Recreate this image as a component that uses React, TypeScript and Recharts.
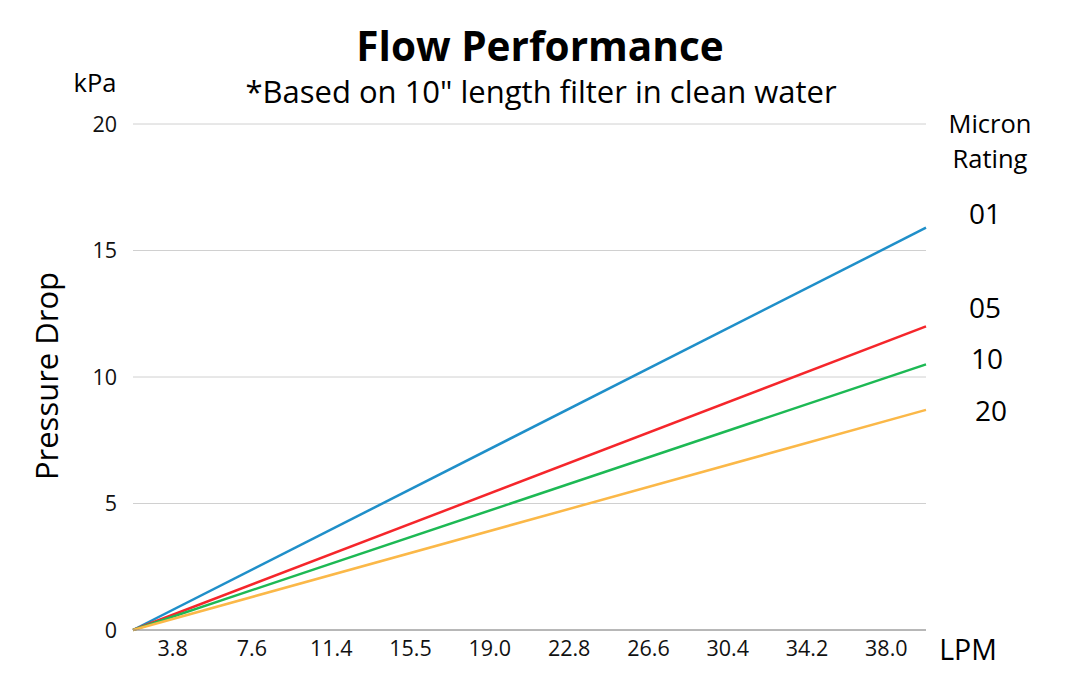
import React from 'react';
import { LineChart, Line, XAxis, YAxis, CartesianGrid } from 'recharts';

// flow positions (band index) and their LPM labels
const xLabels = ['3.8', '7.6', '11.4', '15.5', '19.0', '22.8', '26.6', '30.4', '34.2', '38.0'];
const xTicks = [0.5, 1.5, 2.5, 3.5, 4.5, 5.5, 6.5, 7.5, 8.5, 9.5];
const yTicks = [0, 5, 10, 15, 20];

// pressure drop (kPa) at start and end of flow range
const flowPos = [0, 10];
const micron01 = [0, 15.9];
const micron05 = [0, 12.0];
const micron10 = [0, 10.5];
const micron20 = [0, 8.7];

const seriesNames = ['01', '05', '10', '20'];
const seriesColors = ['#1f8fc9', '#f5262b', '#1db954', '#fbb848'];

const data = flowPos.map((x, i) => ({
  x,
  m01: micron01[i],
  m05: micron05[i],
  m10: micron10[i],
  m20: micron20[i],
}));

const FONT = '"Open Sans", "Noto Sans", sans-serif';

const txt = (s: React.CSSProperties): React.CSSProperties => ({
  position: 'absolute',
  fontFamily: FONT,
  color: '#000',
  whiteSpace: 'nowrap',
  transform: 'translate(-50%, -50%)',
  lineHeight: 1,
  ...s,
});

export default function App() {
  return (
    <div style={{ position: 'absolute', left: 0, top: 0, width: 1068, height: 695, background: '#fff' }}>
      <LineChart width={1068} height={695} data={data} margin={{ top: 124, right: 142, left: 0, bottom: 0 }}>
        <CartesianGrid vertical={false} stroke="#d0d0d0" />
        <XAxis
          dataKey="x"
          type="number"
          domain={[0, 10]}
          ticks={xTicks}
          tickFormatter={(v: number) => xLabels[xTicks.indexOf(v)] ?? ''}
          tickLine={false}
          stroke="#888"
          tick={{ fill: '#111', fontSize: 21.5, fontFamily: FONT }}
          tickSize={0}
          tickMargin={11}
          height={65}
        />
        <YAxis
          type="number"
          domain={[0, 20]}
          ticks={yTicks}
          axisLine={false}
          tickLine={false}
          tick={{ fill: '#111', fontSize: 21.5, fontFamily: FONT }}
          tickSize={0}
          tickMargin={16}
          width={133}
        />
        <Line dataKey="m01" stroke={seriesColors[0]} strokeWidth={2.5} dot={false} isAnimationActive={false} />
        <Line dataKey="m05" stroke={seriesColors[1]} strokeWidth={2.5} dot={false} isAnimationActive={false} />
        <Line dataKey="m10" stroke={seriesColors[2]} strokeWidth={2.5} dot={false} isAnimationActive={false} />
        <Line dataKey="m20" stroke={seriesColors[3]} strokeWidth={2.5} dot={false} isAnimationActive={false} />
      </LineChart>

      <div style={txt({ left: 540, top: 46, fontSize: 40.5, fontWeight: 700 })}>Flow Performance</div>
      <div style={txt({ left: 541, top: 91, fontSize: 31 })}>*Based on 10" length filter in clean water</div>
      <div style={txt({ left: 95, top: 83, fontSize: 25.5 })}>kPa</div>
      <div style={txt({ left: 46, top: 376, fontSize: 31, transform: 'translate(-50%, -50%) rotate(-90deg)' })}>
        Pressure Drop
      </div>
      <div style={txt({ left: 990, top: 124, fontSize: 25.5 })}>Micron</div>
      <div style={txt({ left: 990, top: 159, fontSize: 25.5 })}>Rating</div>
      <div style={txt({ left: 985, top: 213, fontSize: 28 })}>{seriesNames[0]}</div>
      <div style={txt({ left: 985, top: 307, fontSize: 28 })}>{seriesNames[1]}</div>
      <div style={txt({ left: 987, top: 358, fontSize: 28 })}>{seriesNames[2]}</div>
      <div style={txt({ left: 991, top: 410, fontSize: 28 })}>{seriesNames[3]}</div>
      <div style={txt({ left: 968, top: 649, fontSize: 28.5 })}>LPM</div>
    </div>
  );
}
